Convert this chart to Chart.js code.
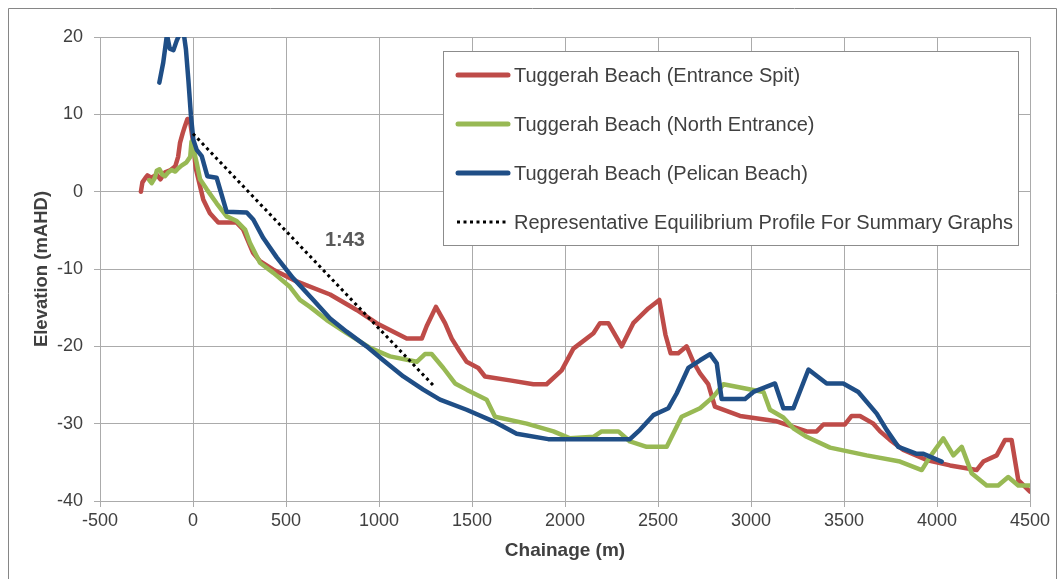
<!DOCTYPE html>
<html>
<head>
<meta charset="utf-8">
<script src="https://cdn.jsdelivr.net/npm/chart.js@4.4.1/dist/chart.umd.min.js"></script>
<style>
  html, body { margin: 0; padding: 0; background: #ffffff; }
  canvas { display: block; }
</style>
</head>
<body>
<canvas id="profile" width="1060" height="579"></canvas>
<script>
// Beach profile surveys: chainage (m) and elevation (mAHD)
const spitChainage = [-280,-272,-255,-245,-225,-195,-175,-150,-120,-95,-80,-70,-55,-43,-30,-15,0,15,38,55,91,136,235,270,323,360,432,557,737,880,987,1149,1230,1256,1306,1355,1391,1435,1471,1534,1570,1704,1830,1901,1982,2045,2153,2188,2233,2305,2367,2448,2507,2540,2568,2609,2654,2690,2726,2770,2806,2941,3138,3299,3353,3389,3505,3541,3586,3658,3694,3747,3819,3944,4070,4213,4249,4321,4366,4401,4437,4500];
const spitElevation = [0,1.2,1.8,2.1,1.8,2.2,1.6,2.5,2.8,3.3,4.5,6.3,7.6,8.5,9.4,9.0,6.5,3,0.7,-1,-2.8,-4,-4,-4.9,-7.9,-9,-10.1,-11.6,-13.3,-15.3,-17,-19,-19,-17.4,-14.9,-17,-19,-20.7,-22,-22.8,-23.9,-24.4,-24.9,-24.9,-23.1,-20.3,-18.3,-17,-17,-20,-17,-15.1,-14,-18.5,-20.9,-20.9,-20,-22,-23.5,-24.9,-27.8,-29,-29.7,-31,-31,-30.1,-30.1,-29,-29,-30,-31,-32.1,-33.4,-34.7,-35.4,-36,-34.9,-34.1,-32.1,-32.1,-37.3,-38.8];

const northChainage = [-235,-222,-205,-195,-180,-165,-150,-133,-115,-95,-80,-60,-35,-15,-8,0,20,38,74,127,181,235,280,306,360,432,521,575,629,719,826,952,1059,1203,1247,1283,1346,1409,1471,1579,1624,1794,1938,2027,2153,2197,2287,2349,2439,2547,2627,2726,2798,2852,3067,3102,3174,3228,3299,3425,3622,3801,3918,3962,4034,4088,4133,4186,4267,4329,4383,4437,4500];
const northElevation = [1.5,1.1,1.8,2.7,2.9,2.2,2.0,2.5,2.8,2.6,3.0,3.4,3.8,4.5,6.5,5.8,3.7,1.6,0.3,-1.5,-3.2,-3.8,-4.9,-6.6,-9.2,-10.5,-12.3,-14,-14.9,-16.6,-18.3,-20.2,-21.3,-22,-21,-21,-22.8,-24.8,-25.6,-26.9,-29.1,-30,-31,-31.9,-31.7,-31,-31,-32.3,-33,-33,-29.1,-28,-26.5,-24.9,-25.9,-28.2,-29.2,-30.6,-31.7,-33.1,-34.1,-34.9,-36,-34.3,-31.9,-34.1,-33,-36.4,-38,-38,-36.9,-38,-38];

const pelicanChainage = [-181,-160,-140,-125,-105,-88,-70,-50,-38,-25,-11,2,20,47,77,127,181,289,324,378,450,539,647,737,826,933,1023,1131,1238,1328,1471,1615,1740,1910,2349,2403,2475,2556,2600,2663,2726,2780,2816,2842,2968,3013,3129,3174,3228,3309,3407,3496,3577,3676,3729,3792,3891,3927,4025];
const pelicanElevation = [14.1,16.7,20.3,18.5,18.3,19.5,20.5,20.5,18.4,14.5,9.8,6.7,5.4,4.6,2,1.8,-2.6,-2.7,-3.6,-6,-8.5,-11.2,-14,-16.4,-18.1,-20,-21.8,-23.9,-25.6,-26.9,-28.2,-29.7,-31.3,-32,-32,-30.8,-28.9,-28,-26.1,-22.8,-21.8,-21,-22.2,-26.8,-26.8,-25.9,-24.8,-28,-28,-23,-24.8,-24.8,-25.9,-28.7,-30.8,-33,-33.9,-33.9,-34.9];

// Representative equilibrium profile (1:43 slope)
const equilibriumChainage = [0, 1290];
const equilibriumElevation = [7.5, -25];
const slopeLabel = '1:43';
const slopeLabelAt = [817, -6.3];

const seriesNames = [
  'Tuggerah Beach (Entrance Spit)',
  'Tuggerah Beach (North Entrance)',
  'Tuggerah Beach (Pelican Beach)',
  'Representative Equilibrium Profile For Summary Graphs'
];

const xTicks = [-500, 0, 500, 1000, 1500, 2000, 2500, 3000, 3500, 4000, 4500];
const yTicks = [-40, -30, -20, -10, 0, 10, 20];

const toPoints = (xs, ys) => xs.map((x, i) => ({ x: x, y: ys[i] }));

const FONT = "'Liberation Sans', Arial, sans-serif";
const TEXT = '#404040';
const GRID = '#ababab';

// White page and outer frame
const framePlugin = {
  id: 'frame',
  beforeDraw(chart) {
    const ctx = chart.ctx;
    ctx.save();
    ctx.fillStyle = '#ffffff';
    ctx.fillRect(0, 0, chart.width, chart.height);
    ctx.strokeStyle = '#868686';
    ctx.lineWidth = 1;
    ctx.beginPath();
    ctx.moveTo(8.5, chart.height);
    ctx.lineTo(8.5, 8.5);
    ctx.lineTo(1056.5, 8.5);
    ctx.lineTo(1056.5, chart.height);
    ctx.stroke();
    ctx.restore();
  }
};

// Boxed legend inside the plot plus the slope annotation
const legendPlugin = {
  id: 'boxLegend',
  afterDraw(chart) {
    const ctx = chart.ctx;
    const box = { left: 443.5, top: 51.5, right: 1018.5, bottom: 245.5 };
    ctx.save();
    ctx.fillStyle = '#ffffff';
    ctx.fillRect(box.left, box.top, box.right - box.left, box.bottom - box.top);
    ctx.strokeStyle = '#8c8c8c';
    ctx.lineWidth = 1;
    ctx.strokeRect(box.left, box.top, box.right - box.left, box.bottom - box.top);

    const rowY = [75, 124, 173, 222];
    chart.data.datasets.forEach((ds, i) => {
      const y = rowY[i];
      ctx.save();
      ctx.strokeStyle = ds.borderColor;
      if (ds.borderDash && ds.borderDash.length) {
        ctx.lineWidth = 3;
        ctx.lineCap = 'butt';
        ctx.setLineDash(ds.borderDash);
        ctx.beginPath();
        ctx.moveTo(457, y);
        ctx.lineTo(509, y);
        ctx.stroke();
      } else {
        ctx.lineWidth = 5;
        ctx.lineCap = 'round';
        ctx.beginPath();
        ctx.moveTo(458, y);
        ctx.lineTo(508, y);
        ctx.stroke();
      }
      ctx.restore();
      ctx.fillStyle = TEXT;
      ctx.font = "20px " + FONT;
      ctx.textBaseline = 'middle';
      ctx.textAlign = 'left';
      ctx.fillText(ds.label, 514, y + 1);
    });

    const xs = chart.scales.x, ys = chart.scales.y;
    ctx.fillStyle = '#595959';
    ctx.font = "bold 20px " + FONT;
    ctx.textAlign = 'center';
    ctx.textBaseline = 'middle';
    ctx.fillText(slopeLabel, xs.getPixelForValue(slopeLabelAt[0]), ys.getPixelForValue(slopeLabelAt[1]));
    ctx.restore();
  }
};

const lineStyle = { borderWidth: 4.5, pointRadius: 0, tension: 0, borderJoinStyle: 'round', borderCapStyle: 'round', fill: false };
const plainNumber = (v) => String(v);

new Chart(document.getElementById('profile'), {
  type: 'line',
  data: {
    datasets: [
      Object.assign({ label: seriesNames[0], data: toPoints(spitChainage, spitElevation), borderColor: '#BE4B48', order: 3 }, lineStyle),
      Object.assign({ label: seriesNames[1], data: toPoints(northChainage, northElevation), borderColor: '#98B954', order: 2 }, lineStyle),
      Object.assign({ label: seriesNames[2], data: toPoints(pelicanChainage, pelicanElevation), borderColor: '#1F4E86', order: 1 }, lineStyle),
      { label: seriesNames[3], data: toPoints(equilibriumChainage, equilibriumElevation), borderColor: '#000000', borderWidth: 3, borderDash: [3, 3.5], borderCapStyle: 'butt', pointRadius: 0, tension: 0, fill: false, order: 0 }
    ]
  },
  options: {
    responsive: false,
    animation: false,
    devicePixelRatio: 1,
    layout: { padding: { left: 0, right: 30, top: 37, bottom: 0 } },
    plugins: { legend: { display: false }, tooltip: { enabled: false } },
    scales: {
      x: {
        type: 'linear',
        min: xTicks[0],
        max: xTicks[xTicks.length - 1],
        afterBuildTicks(scale) { scale.ticks = xTicks.map(v => ({ value: v })); },
        afterFit(scale) { scale.height = 78; },
        grid: { color: GRID, lineWidth: 1, tickLength: 6, drawTicks: true },
        border: { color: GRID, width: 1 },
        ticks: { color: TEXT, font: { family: FONT, size: 18 }, padding: 3, maxRotation: 0, autoSkip: false, callback: plainNumber },
        title: { display: true, text: 'Chainage (m)', color: TEXT, font: { family: FONT, size: 19, weight: 'bold' }, padding: { top: 0, bottom: 17 } }
      },
      y: {
        type: 'linear',
        min: yTicks[0],
        max: yTicks[yTicks.length - 1],
        afterBuildTicks(scale) { scale.ticks = yTicks.map(v => ({ value: v })); },
        afterFit(scale) { scale.width = 100; },
        grid: { color: GRID, lineWidth: 1, tickLength: 6, drawTicks: true },
        border: { color: GRID, width: 1 },
        ticks: { color: TEXT, font: { family: FONT, size: 18 }, padding: 11, callback: plainNumber },
        title: { display: true, text: 'Elevation (mAHD)', color: TEXT, font: { family: FONT, size: 18.5, weight: 'bold' }, padding: { top: 31, bottom: 0 } }
      }
    }
  },
  plugins: [framePlugin, legendPlugin]
});
</script>
</body>
</html>
